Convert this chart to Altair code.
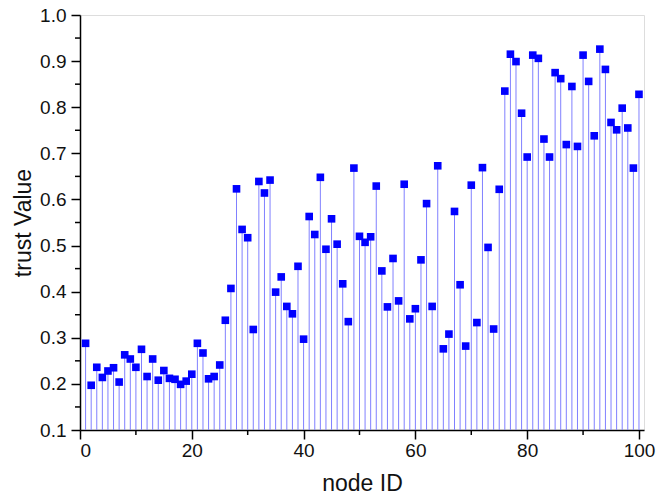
import altair as alt
import pandas as pd

node_id = list(range(1, 101))
trust_value = [
    0.288, 0.197, 0.236, 0.214, 0.228, 0.235, 0.204, 0.263, 0.254, 0.236,
    0.275, 0.216, 0.254, 0.208, 0.229, 0.212, 0.210, 0.199, 0.206, 0.221,
    0.288, 0.267, 0.211, 0.216, 0.241, 0.338, 0.407, 0.623, 0.535, 0.517,
    0.318, 0.639, 0.614, 0.642, 0.399, 0.432, 0.368, 0.352, 0.455, 0.297,
    0.563, 0.524, 0.648, 0.492, 0.558, 0.503, 0.417, 0.335, 0.668, 0.520,
    0.507, 0.519, 0.629, 0.445, 0.367, 0.472, 0.380, 0.633, 0.341, 0.363,
    0.469, 0.591, 0.368, 0.673, 0.276, 0.308, 0.574, 0.415, 0.282, 0.631,
    0.333, 0.669, 0.496, 0.319, 0.622, 0.835, 0.915, 0.899, 0.787, 0.692,
    0.913, 0.906, 0.731, 0.692, 0.875, 0.862, 0.719, 0.845, 0.715, 0.913,
    0.856, 0.738, 0.926, 0.882, 0.767, 0.751, 0.798, 0.755, 0.668, 0.828,
]
baseline = 0.1
x_ticks = [0, 20, 40, 60, 80, 100]
x_minor = [10, 30, 50, 70, 90]
y_ticks = [0.1, 0.2, 0.3, 0.4, 0.5, 0.6, 0.7, 0.8, 0.9, 1.0]
y_minor = [0.15, 0.25, 0.35, 0.45, 0.55, 0.65, 0.75, 0.85, 0.95]

df = pd.DataFrame({"node": node_id, "trust": trust_value, "base": [baseline] * len(node_id)})
yminor_df = pd.DataFrame({"m": y_minor})
xminor_df = pd.DataFrame({"m": x_minor})

FONT = "Liberation Sans"
W, H = 564, 415
xscale = alt.Scale(domain=[0, 100.9], nice=False, zero=False)
yscale = alt.Scale(domain=[0.1, 1.0], nice=False, zero=False)

xaxis = alt.Axis(
    values=x_ticks, title="node ID",
    grid=False, tickSize=9, tickColor="#000", tickWidth=1.5, domainColor="#000", domainWidth=1.5,
    labelFont=FONT, labelFontSize=19, labelColor="#111", labelPadding=2,
    titleFont=FONT, titleFontSize=23, titleFontWeight="normal", titleColor="#111", titlePadding=12,
)
yaxis = alt.Axis(
    values=y_ticks, title="trust Value", format=".1f",
    grid=False, tickSize=9, tickColor="#000", tickWidth=1.5, domainColor="#000", domainWidth=1.5,
    labelFont=FONT, labelFontSize=19, labelColor="#111", labelPadding=5,
    titleFont=FONT, titleFontSize=23, titleFontWeight="normal", titleColor="#111", titlePadding=4,
)

stems = alt.Chart(df).mark_rule(color="#8080ff", strokeWidth=1).encode(
    x=alt.X("node:Q", scale=xscale, axis=xaxis),
    y=alt.Y("trust:Q", scale=yscale, axis=yaxis),
    y2="base:Q",
)
points = alt.Chart(df).mark_square(size=58, color="#0000ff", opacity=1).encode(
    x=alt.X("node:Q", scale=xscale),
    y=alt.Y("trust:Q", scale=yscale),
)
yminor = alt.Chart(yminor_df).mark_rule(color="#000", strokeWidth=1.5).encode(
    y=alt.Y("m:Q", scale=yscale),
    x=alt.value(-5),
    x2=alt.value(0),
)
xminor = alt.Chart(xminor_df).mark_rule(color="#000", strokeWidth=1.5).encode(
    x=alt.X("m:Q", scale=xscale),
    y=alt.value(H),
    y2=alt.value(H + 5),
)

chart = (
    alt.layer(stems, points, yminor, xminor)
    .properties(
        width=W, height=H,
        autosize=alt.AutoSizeParams(type="none"),
        padding={"left": 80, "top": 15, "right": 26, "bottom": 68},
    )
    .configure_view(stroke="#000", strokeWidth=1.5)
    .configure(background="white")
)

chart.save("out.html", embed_options={"renderer": "svg", "actions": False})
